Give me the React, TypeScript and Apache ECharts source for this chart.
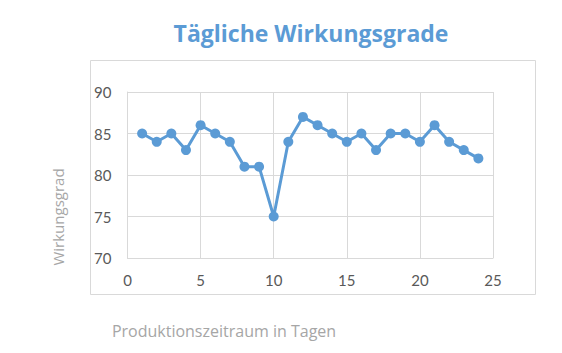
import React, { useEffect, useRef } from "react";
import * as echarts from "echarts";

const days = [1, 2, 3, 4, 5, 6, 7, 8, 9, 10, 11, 12, 13, 14, 15, 16, 17, 18, 19, 20, 21, 22, 23, 24];
const efficiency = [85, 84, 85, 83, 86, 85, 84, 81, 81, 75, 84, 87, 86, 85, 84, 85, 83, 85, 85, 84, 86, 84, 83, 82];
const title = "Tägliche Wirkungsgrade";
const yName = "Wirkungsgrad";
const xName = "Produktionszeitraum in Tagen";

export default function App() {
  const ref = useRef<HTMLDivElement>(null);
  useEffect(() => {
    const chart = echarts.init(ref.current!, null, { renderer: "svg" });
    const font = "'Open Sans', sans-serif";
    const tickFont = "Lato, sans-serif";
    chart.setOption({
      animation: false,
      textStyle: { fontFamily: font },
      title: {
        text: title,
        left: 306,
        top: 16,
        textAlign: "center",
        textStyle: { color: "#5b9bd5", fontSize: 23, fontWeight: "bold", fontFamily: font },
      },
      graphic: [
        {
          type: "rect",
          shape: { x: 90.5, y: 60.5, width: 445, height: 234 },
          style: { fill: "none", stroke: "#d9d9d9", lineWidth: 1 },
          silent: true,
        },
        {
          type: "text",
          x: 224,
          y: 331,
          style: { text: xName, fill: "#a6a6a6", fontSize: 16, fontFamily: font, align: "center", verticalAlign: "middle" },
        },
        {
          type: "text",
          x: 58,
          y: 217,
          rotation: Math.PI / 2,
          style: { text: yName, fill: "#a6a6a6", fontSize: 15, fontFamily: font, align: "center", verticalAlign: "middle" },
        },
      ],
      grid: { left: 127.5, right: 69, top: 92, bottom: 95, containLabel: false },
      xAxis: {
        type: "value",
        min: 0,
        max: 25,
        interval: 5,
        axisLine: { show: true, lineStyle: { color: "#d9d9d9" } },
        axisTick: { show: false },
        axisLabel: { color: "#595959", fontSize: 15, margin: 14, fontFamily: tickFont },
        splitLine: { show: true, lineStyle: { color: "#d9d9d9" } },
      },
      yAxis: {
        type: "value",
        min: 70,
        max: 90,
        interval: 5,
        axisLine: { show: true, lineStyle: { color: "#d9d9d9" } },
        axisTick: { show: false },
        axisLabel: { color: "#595959", fontSize: 15, margin: 16, fontFamily: tickFont },
        splitLine: { show: true, lineStyle: { color: "#d9d9d9" } },
      },
      series: [
        {
          type: "line",
          data: days.map((d, i) => [d, efficiency[i]]),
          symbol: "circle",
          symbolSize: 10,
          lineStyle: { color: "#5b9bd5", width: 3 },
          itemStyle: { color: "#5b9bd5" },
        },
      ],
    });
    return () => chart.dispose();
  }, []);
  return <div ref={ref} style={{ position: "absolute", left: 0, top: 0, width: 562, height: 353 }} />;
}
